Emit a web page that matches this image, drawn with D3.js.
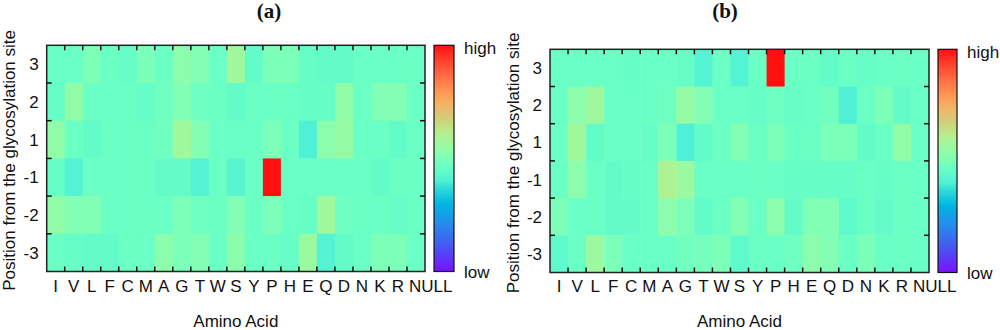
<!DOCTYPE html>
<html lang="en">
<head>
  <meta charset="UTF-8" />
  <title>Amino acid position heatmaps</title>
  <script src="https://d3js.org/d3.v7.min.js"></script>
  <style>
    body { margin: 0; background: #ffffff; }
    svg { font-family: 'Liberation Sans', Arial, sans-serif; }
    .lbl { font-size: 17px; fill: #111; }
    .title { font-family: 'Liberation Serif', 'Times New Roman', serif; font-weight: bold; font-size: 21px; fill: #111; }
  </style>
</head>
<body>
  <svg id="chart" width="1000" height="330"></svg>

  <script>
    const aminoAcids = ["I","V","L","F","C","M","A","G","T","W","S","Y","P","H","E","Q","D","N","K","R","NULL"];
    const positions = ["3","2","1","-1","-2","-3"];

    // rows top to bottom follow positions
    const panelAValues = [
      [0.47,0.47,0.50,0.47,0.46,0.50,0.47,0.53,0.51,0.47,0.57,0.45,0.50,0.50,0.46,0.45,0.45,0.47,0.47,0.47,0.47],
      [0.46,0.54,0.47,0.47,0.47,0.46,0.48,0.51,0.48,0.47,0.45,0.47,0.47,0.47,0.46,0.46,0.54,0.47,0.51,0.51,0.47],
      [0.54,0.47,0.45,0.47,0.47,0.47,0.48,0.57,0.51,0.47,0.47,0.47,0.50,0.47,0.40,0.53,0.55,0.47,0.47,0.45,0.47],
      [0.46,0.41,0.47,0.47,0.47,0.47,0.45,0.45,0.41,0.47,0.42,0.47,1.00,0.47,0.47,0.47,0.47,0.47,0.45,0.47,0.47],
      [0.54,0.51,0.51,0.47,0.47,0.47,0.47,0.50,0.48,0.47,0.51,0.47,0.50,0.47,0.46,0.57,0.48,0.47,0.47,0.46,0.47],
      [0.47,0.46,0.45,0.45,0.47,0.47,0.53,0.50,0.51,0.47,0.53,0.47,0.47,0.46,0.56,0.41,0.45,0.47,0.50,0.50,0.47]
    ];
    const panelBValues = [
      [0.47,0.47,0.47,0.47,0.46,0.47,0.47,0.46,0.41,0.47,0.41,0.47,1.00,0.47,0.47,0.45,0.47,0.46,0.47,0.47,0.47],
      [0.47,0.53,0.57,0.47,0.47,0.47,0.48,0.55,0.51,0.47,0.47,0.46,0.48,0.46,0.47,0.48,0.40,0.47,0.50,0.45,0.47],
      [0.47,0.57,0.45,0.47,0.47,0.46,0.50,0.40,0.45,0.47,0.51,0.47,0.50,0.47,0.47,0.50,0.50,0.45,0.47,0.54,0.47],
      [0.47,0.53,0.47,0.45,0.46,0.47,0.60,0.56,0.47,0.47,0.47,0.47,0.47,0.46,0.46,0.46,0.46,0.47,0.46,0.47,0.47],
      [0.50,0.47,0.47,0.45,0.45,0.47,0.53,0.50,0.45,0.47,0.51,0.47,0.53,0.45,0.51,0.51,0.44,0.47,0.45,0.47,0.47],
      [0.44,0.47,0.56,0.50,0.47,0.47,0.47,0.48,0.49,0.50,0.44,0.47,0.47,0.48,0.53,0.51,0.47,0.50,0.47,0.47,0.47]
    ];

    const colorStops = [0.00,0.10,0.20,0.30,0.38,0.40,0.44,0.47,0.51,0.54,0.57,0.61,0.68,0.74,0.80,0.88,0.95,1.00];
    const colorRange = ["#7b10ff","#4c50f2","#2a86ee","#00b6e2","#3ae2d6","#4ff0d5","#5ffacb","#6affc4","#82ffb4",
                        "#90fca8","#a0f89c","#b4f08e","#d4cc78","#f4b266","#ff9452","#ff6240","#ff3424","#ff1010"];
    const color = d3.scaleLinear().domain(colorStops).range(colorRange).interpolate(d3.interpolateRgb);

    const svg = d3.select("#chart");

    const panels = [
      { id: "a", title: "(a)", titleX: 269, values: panelAValues,
        x0: 46.7, x1: 425, y0: 45.3, y1: 271.5, cb: [434, 454], yTitleX: 15 },
      { id: "b", title: "(b)", titleX: 725, values: panelBValues,
        x0: 550, x1: 929, y0: 49.3, y1: 272.5, cb: [938, 957], yTitleX: 519 }
    ];

    // shared gradient for the colour bars (top = high)
    const grad = svg.append("defs").append("linearGradient")
      .attr("id", "cbar").attr("x1", 0).attr("y1", 1).attr("x2", 0).attr("y2", 0);
    d3.range(0, 1.0001, 0.02).forEach(t => {
      grad.append("stop").attr("offset", t).attr("stop-color", color(t));
    });

    panels.forEach(p => {
      const g = svg.append("g");
      const x = d3.scaleBand().domain(aminoAcids).range([p.x0, p.x1]);
      const y = d3.scaleBand().domain(positions).range([p.y0, p.y1]);

      const cells = [];
      p.values.forEach((row, i) => row.forEach((v, j) => cells.push({ pos: positions[i], aa: aminoAcids[j], v })));

      g.selectAll("rect.cell")
        .data(cells)
        .join("rect")
          .attr("class", "cell")
          .attr("x", d => x(d.aa))
          .attr("y", d => y(d.pos))
          .attr("width", x.bandwidth() + 0.5)
          .attr("height", y.bandwidth() + 0.5)
          .attr("fill", d => color(d.v));

      // frame
      g.append("rect")
        .attr("x", p.x0).attr("y", p.y0)
        .attr("width", p.x1 - p.x0).attr("height", p.y1 - p.y0)
        .attr("fill", "none").attr("stroke", "#222").attr("stroke-width", 1.5);

      // inward ticks at cell boundaries
      const tk = 5;
      const xb = aminoAcids.slice(1).map(a => x(a));
      const yb = positions.slice(1).map(a => y(a));
      g.selectAll("line.xt").data(xb).join("line")
        .attr("x1", d => d).attr("x2", d => d).attr("y1", p.y0).attr("y2", p.y0 + tk)
        .attr("stroke", "#111").attr("stroke-width", 1.5);
      g.selectAll("line.xb").data(xb).join("line")
        .attr("x1", d => d).attr("x2", d => d).attr("y1", p.y1).attr("y2", p.y1 - tk)
        .attr("stroke", "#111").attr("stroke-width", 1.5);
      g.selectAll("line.yl").data(yb).join("line")
        .attr("y1", d => d).attr("y2", d => d).attr("x1", p.x0).attr("x2", p.x0 + tk)
        .attr("stroke", "#111").attr("stroke-width", 1.5);
      g.selectAll("line.yr").data(yb).join("line")
        .attr("y1", d => d).attr("y2", d => d).attr("x1", p.x1).attr("x2", p.x1 - tk)
        .attr("stroke", "#111").attr("stroke-width", 1.5);

      // x labels (NULL spills to the right of its cell)
      g.selectAll("text.xl").data(aminoAcids).join("text")
        .attr("class", "lbl")
        .attr("x", d => d === "NULL" ? x(d) + 2 : x(d) + x.bandwidth() / 2)
        .attr("y", 292)
        .attr("text-anchor", d => d === "NULL" ? "start" : "middle")
        .text(d => d);

      // y labels
      g.selectAll("text.yl").data(positions).join("text")
        .attr("class", "lbl")
        .attr("x", p.x0 - 8)
        .attr("y", d => y(d) + y.bandwidth() / 2)
        .attr("dy", "0.36em")
        .attr("text-anchor", "end")
        .text(d => d);

      // axis titles
      g.append("text").attr("class", "lbl")
        .attr("x", (p.x0 + p.x1) / 2).attr("y", 327)
        .attr("text-anchor", "middle").text("Amino Acid");
      g.append("text").attr("class", "lbl")
        .attr("transform", `translate(${p.yTitleX},${(p.y0 + p.y1) / 2 + 2}) rotate(-90)`)
        .attr("text-anchor", "middle").text("Position from the glycosylation site");

      // panel title
      g.append("text").attr("class", "title")
        .attr("x", p.titleX).attr("y", 18)
        .attr("text-anchor", "middle").text(p.title);

      // colour bar
      g.append("rect")
        .attr("x", p.cb[0]).attr("y", p.y0)
        .attr("width", p.cb[1] - p.cb[0]).attr("height", p.y1 - p.y0)
        .attr("fill", "url(#cbar)").attr("stroke", "#111").attr("stroke-width", 1.2);
      g.append("text").attr("class", "lbl")
        .attr("x", p.cb[1] + 10).attr("y", p.y0 + 9).text("high");
      g.append("text").attr("class", "lbl")
        .attr("x", p.cb[1] + 10).attr("y", p.y1 + 6).text("low");
    });
  </script>
</body>
</html>
